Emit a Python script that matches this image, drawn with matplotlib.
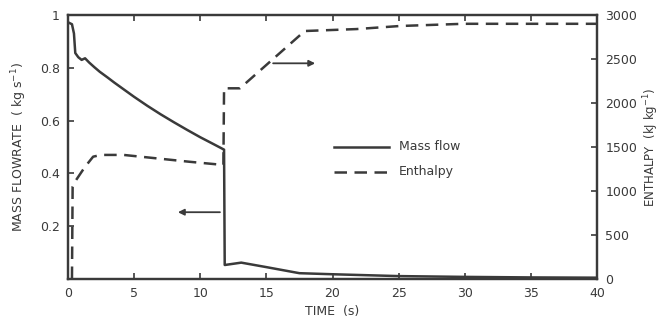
import numpy as np
import matplotlib
matplotlib.use("Agg")
import matplotlib.pyplot as plt

# mass flow (kg/s) vs time (s)
t_mass = [0.1, 0.3, 0.45, 0.55, 0.78, 1.03, 1.29, 1.6, 2.0, 2.4, 3.0, 3.5, 4.0, 4.5, 5.0, 6.0, 7.0, 8.0,
          9.0, 10.0, 11.0, 11.8,
          11.85, 13.1, 15.0, 17.5, 20.0, 25.0, 30.0, 35.0, 40.0]
mass_flow = [0.97, 0.965, 0.93, 0.856, 0.84, 0.83, 0.836, 0.82, 0.802, 0.785, 0.763, 0.744, 0.726, 0.708, 0.69,
             0.656, 0.624, 0.594, 0.565, 0.537, 0.511, 0.49,
             0.053, 0.062, 0.045, 0.022, 0.018, 0.011, 0.008, 0.006, 0.005]

# enthalpy (kJ/kg) vs time (s)
t_enth = [0.3, 0.35, 0.53, 1.03, 1.29, 1.9, 2.5, 4.2, 6.7, 9.2, 11.75,
          11.8, 13.0, 17.9, 21.8, 25.1, 29.9, 40.0]
enthalpy = [0, 1050, 1106, 1218, 1275, 1390, 1410, 1410, 1371, 1332, 1296,
            2167, 2167, 2818, 2840, 2875, 2900, 2900]

ink = "#3a3a3a"
plt.rcParams['font.family'] = ['DejaVu Sans']

fig = plt.figure(figsize=(6.62, 3.25), dpi=100)
ax = fig.add_axes([68 / 662, 1 - 279 / 325, (597 - 68) / 662, (279 - 15) / 325])
ax2 = ax.twinx()

ax.plot(t_mass, mass_flow, color=ink, lw=1.8)
ax2.plot(t_enth, enthalpy, color=ink, lw=1.8, dashes=(5, 3))

ax.set_xlim(0, 40)
ax.set_ylim(0, 1)
ax2.set_ylim(0, 3000)

ax.set_xticks([0, 5, 10, 15, 20, 25, 30, 35, 40])
ax.set_xticklabels(["0", "5", "10", "15", "20", "25", "30", "35", "40"])
ax.set_yticks([0.2, 0.4, 0.6, 0.8, 1.0])
ax.set_yticklabels(["0.2", "0.4", "0.6", "0.8", "1"])
ax2.set_yticks([0, 500, 1000, 1500, 2000, 2500, 3000])

ax.tick_params(axis="both", direction="in", length=4, width=1.2, color=ink,
               labelcolor=ink, labelsize=9, top=True, pad=6)
ax2.tick_params(axis="y", direction="in", length=4, width=1.2, color=ink,
                labelcolor=ink, labelsize=9, pad=6)
for a in (ax, ax2):
    for s in a.spines.values():
        s.set_color(ink)
        s.set_linewidth(1.6)

ax.set_xlabel("TIME  (s)", color=ink, fontsize=9, labelpad=3)
ax.set_ylabel("MASS FLOWRATE  ( kg s$^{-1}$)", color=ink, fontsize=9, labelpad=8)
ax2.set_ylabel("ENTHALPY  (kJ kg$^{-1}$)", color=ink, fontsize=8.5, labelpad=3)

# arrows pointing to the relevant axis
ax.annotate("", xy=(8.1, 0.253), xytext=(11.7, 0.253),
            arrowprops=dict(arrowstyle="-|>", color=ink, lw=1.3, mutation_scale=9))
ax.annotate("", xy=(18.9, 0.817), xytext=(15.3, 0.817),
            arrowprops=dict(arrowstyle="-|>", color=ink, lw=1.3, mutation_scale=9))

# legend drawn by hand to match position
ax.plot([20.1, 24.3], [0.501, 0.501], color=ink, lw=1.8)
ax.plot([20.1, 24.3], [0.407, 0.407], color=ink, lw=1.8, dashes=(5, 3))
ax.text(25.0, 0.501, "Mass flow", color=ink, fontsize=9, va="center")
ax.text(25.0, 0.407, "Enthalpy", color=ink, fontsize=9, va="center")

fig.savefig("out.png", dpi=100)
